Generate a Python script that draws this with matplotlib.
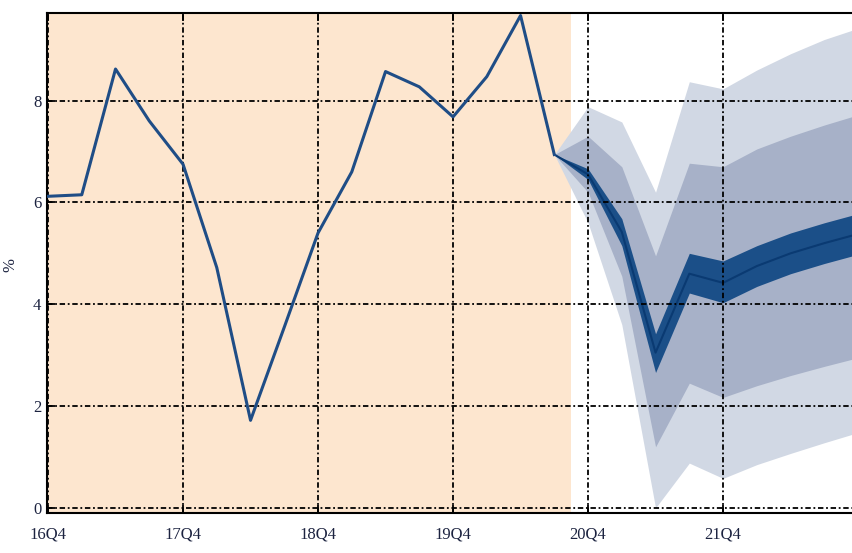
import matplotlib.pyplot as plt
import numpy as np

plt.rcParams['font.family'] = ['Liberation Serif', 'DejaVu Serif']

# quarterly labels, 16Q4 .. 22Q4
quarters = ['16Q4', '17Q1', '17Q2', '17Q3', '17Q4', '18Q1', '18Q2', '18Q3', '18Q4',
            '19Q1', '19Q2', '19Q3', '19Q4', '20Q1', '20Q2', '20Q3', '20Q4',
            '21Q1', '21Q2', '21Q3', '21Q4', '22Q1', '22Q2', '22Q3', '22Q4']

# outturns up to 20Q3
history = [6.12, 6.15, 8.62, 7.6, 6.75, 4.72, 1.72, 3.55, 5.4,
           6.6, 8.57, 8.27, 7.68, 8.47, 9.67, 6.94]

# projection 20Q3 .. 22Q4
proj_center = [6.94, 6.55, 5.42, 3.05, 4.6, 4.42, 4.75, 5.0, 5.2, 5.38]
dark_lo = [6.94, 6.45, 5.15, 2.66, 4.22, 4.03, 4.35, 4.6, 4.8, 4.98]
dark_hi = [6.94, 6.66, 5.68, 3.42, 5.0, 4.85, 5.15, 5.4, 5.6, 5.78]
mid_lo = [6.94, 6.2, 4.55, 1.2, 2.45, 2.17, 2.4, 2.6, 2.78, 2.95]
mid_hi = [6.94, 7.3, 6.7, 4.95, 6.77, 6.7, 7.05, 7.3, 7.52, 7.72]
out_lo = [6.94, 5.6, 3.6, 0.0, 0.88, 0.58, 0.85, 1.07, 1.28, 1.48]
out_hi = [6.94, 7.88, 7.58, 6.2, 8.37, 8.23, 8.6, 8.92, 9.2, 9.42]

x_hist = np.arange(len(history))
x_proj = np.arange(len(history) - 1, len(quarters))

fig = plt.figure(figsize=(8.52, 5.53), dpi=100)
ax = fig.add_axes([47 / 852, 40 / 553, 1 - 47 / 852, 500 / 553])

# shaded history period
ax.axvspan(-1, len(history) - 0.5, color='#fde6cf', zorder=0, lw=0)

# fan
ax.fill_between(x_proj, out_lo, out_hi, color='#d1d8e4', lw=0, zorder=1)
ax.fill_between(x_proj, mid_lo, mid_hi, color='#a7b1c8', lw=0, zorder=1.2)
ax.fill_between(x_proj, dark_lo, dark_hi, color='#1b4f88', lw=0, zorder=1.4)
ax.plot(x_proj, proj_center, color='#0a3a72', lw=1.5, zorder=1.6)

ax.plot(x_hist, history, color='#1f4d86', lw=2.2, zorder=3)

xt = list(range(0, 21, 4))
ax.set_xticks(xt)
ax.set_xticklabels([quarters[i] for i in xt])
ax.set_yticks([0, 2, 4, 6, 8])
ax.set_xlim(-0.03, 23.82)
ax.set_ylim(-0.1, 9.72)

ax.set_axisbelow(False)
ax.grid(True, color='black', lw=1.3, linestyle=(0, (3, 1.5, 1, 1.5)), zorder=2.5)
ax.tick_params(direction='in', length=6, width=1.3, top=True, labelsize=12,
               colors='black', labelcolor='#1c2340', pad=10)
ax.tick_params(axis='y', pad=4)
for s in ['top', 'bottom', 'left']:
    ax.spines[s].set_linewidth(1.5)
ax.spines['right'].set_visible(False)

ax.set_ylabel('%', fontsize=12, color='#1c2340')
ax.yaxis.set_label_coords(-0.036, 0.496)

fig.savefig('out.png', dpi=100)
